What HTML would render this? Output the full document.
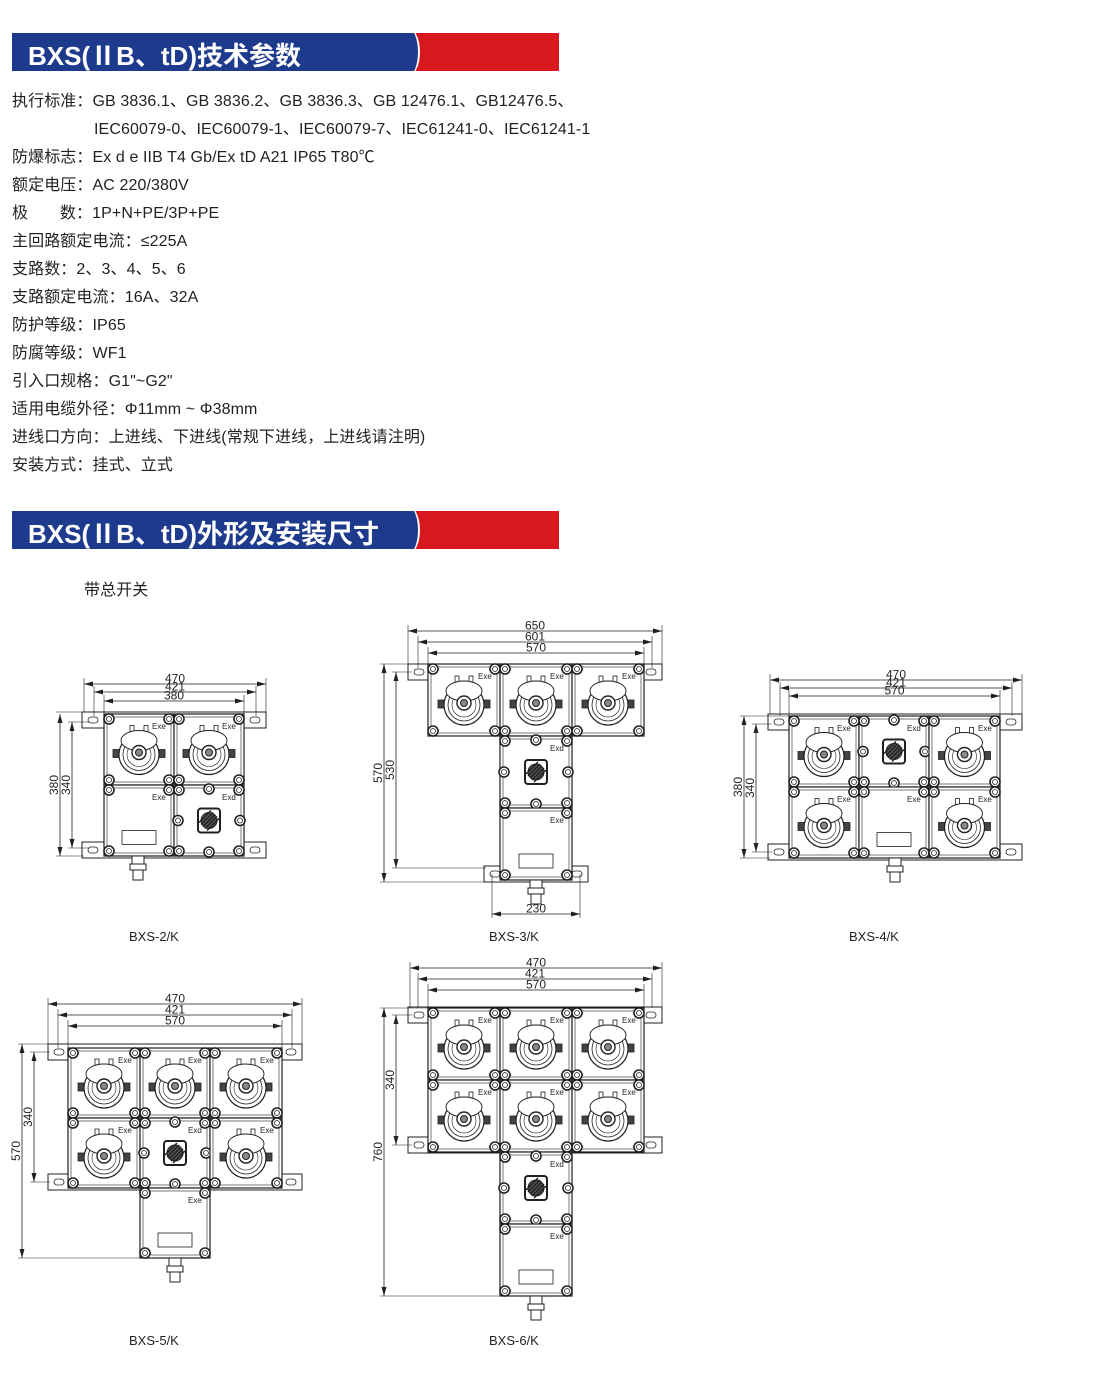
<!DOCTYPE html>
<html><head><meta charset="utf-8">
<style>
body{margin:0;background:#fff;width:1100px;height:1374px;overflow:hidden;position:relative;font-family:"Liberation Sans","Noto Sans CJK SC",sans-serif;color:#231f20}
.hdr{position:absolute;left:12px;width:547px;height:38px;background:#d7191f;overflow:hidden}
.hdr .b{position:absolute;left:0;top:0;width:395px;height:38px;background:#1e3a8c}
.hdr .c{position:absolute;left:382px;top:-6px;width:24px;height:50px;border-radius:0 50% 50% 0/0 50% 50% 0;background:#1e3a8c;border-right:2px solid #fff}
.hdr span{position:absolute;left:16px;top:3px;color:#fff;font-size:26px;font-weight:bold}
.t{position:absolute;font-size:16px;white-space:nowrap;letter-spacing:0.1px}
.lb{position:absolute;font-size:13px;white-space:nowrap}
svg{position:absolute;left:0;top:0}
</style></head><body>
<div class="hdr" style="top:33px"><div class="b"></div><div class="c"></div><span>BXS(ⅡB、tD)技术参数</span></div>
<div class="hdr" style="top:511px"><div class="b"></div><div class="c"></div><span>BXS(ⅡB、tD)外形及安装尺寸</span></div>
<div class="t" style="left:12px;top:87px">执行标准：GB 3836.1、GB 3836.2、GB 3836.3、GB 12476.1、GB12476.5、</div>
<div class="t" style="left:94px;top:115px">IEC60079-0、IEC60079-1、IEC60079-7、IEC61241-0、IEC61241-1</div>
<div class="t" style="left:12px;top:143px">防爆标志：Ex d e IIB T4 Gb/Ex tD A21 IP65 T80℃</div>
<div class="t" style="left:12px;top:171px">额定电压：AC 220/380V</div>
<div class="t" style="left:12px;top:199px">极&nbsp;&nbsp;&nbsp;&nbsp;&nbsp;&nbsp;&nbsp;数：1P+N+PE/3P+PE</div>
<div class="t" style="left:12px;top:227px">主回路额定电流：≤225A</div>
<div class="t" style="left:12px;top:255px">支路数：2、3、4、5、6</div>
<div class="t" style="left:12px;top:283px">支路额定电流：16A、32A</div>
<div class="t" style="left:12px;top:311px">防护等级：IP65</div>
<div class="t" style="left:12px;top:339px">防腐等级：WF1</div>
<div class="t" style="left:12px;top:367px">引入口规格：G1"~G2"</div>
<div class="t" style="left:12px;top:395px">适用电缆外径：Φ11mm ~ Φ38mm</div>
<div class="t" style="left:12px;top:423px">进线口方向：上进线、下进线(常规下进线，上进线请注明)</div>
<div class="t" style="left:12px;top:451px">安装方式：挂式、立式</div>
<div class="t" style="left:84px;top:576px">带总开关</div>
<div class="lb" style="left:129px;top:929px">BXS-2/K</div>
<div class="lb" style="left:489px;top:929px">BXS-3/K</div>
<div class="lb" style="left:849px;top:929px">BXS-4/K</div>
<div class="lb" style="left:129px;top:1333px">BXS-5/K</div>
<div class="lb" style="left:489px;top:1333px">BXS-6/K</div>
<svg id="s" width="1100" height="1374" xmlns="http://www.w3.org/2000/svg"></svg>
<script>
var o='';
function L(a,b,c,d,w){o+='<line x1="'+a+'" y1="'+b+'" x2="'+c+'" y2="'+d+'" stroke="#231f20" stroke-width="'+(w||0.8)+'"/>';}
function R(x,y,w,h,f,sw,r){o+='<rect x="'+x+'" y="'+y+'" width="'+w+'" height="'+h+'" rx="'+(r||0)+'" fill="'+(f||'#fff')+'" stroke="#231f20" stroke-width="'+(sw||1)+'"/>';}
function C(x,y,r,f,sw){o+='<circle cx="'+x+'" cy="'+y+'" r="'+r+'" fill="'+(f||'none')+'" stroke="#231f20" stroke-width="'+(sw||1)+'"/>';}
function T(x,y,s,fs,rot){o+='<text x="'+x+'" y="'+y+'" font-size="'+(fs||12)+'" font-family="Liberation Sans,sans-serif" fill="#231f20" text-anchor="middle"'+(rot?' transform="rotate(-90 '+x+' '+y+')"':'')+'>'+s+'</text>';}
function bolt(x,y){C(x,y,5,'#fff',1.6);C(x,y,2.5,'none',0.8);}
function arrH(x1,x2,y,txt){L(x1,y,x2,y);o+='<path d="M'+x1+' '+y+'l9 -2.5v5z M'+x2+' '+y+'l-9 -2.5v5z" fill="#231f20"/>';T((x1+x2)/2,y-1.5,txt,12);}
function arrV(x,y1,y2,txt){L(x,y1,x,y2);o+='<path d="M'+x+' '+y1+'l-2.5 9h5z M'+x+' '+y2+'l-2.5 -9h5z" fill="#231f20"/>';T(x-2,(y1+y2)/2,txt,12,1);}
function mod(x,y,w,h,type){
 R(x,y,w,h,'#fff',1.2);R(x+3,y+3,w-6,h-6,'none',0.6);
 var lab=type=='sw'?'Exd':'Exe';
 o+='<text x="'+(x+w-22)+'" y="'+(y+15)+'" font-size="8" font-family="Liberation Sans,sans-serif" fill="#231f20">'+lab+'</text>';
 if(type=='so'){var cx=x+w/2,cy=y+h/2+3;
  R(cx-9,cy-27,4,8,'#fff',0.8);R(cx+5,cy-27,4,8,'#fff',0.8);
  R(cx-26,cy-3,6,8,'#444',0.8);R(cx+20,cy-3,6,8,'#444',0.8);
  C(cx,cy+2,20,'#fff',1.2);C(cx,cy+2,16,'none',0.8);C(cx,cy+2,12,'none',0.6);
  o+='<ellipse cx="'+cx+'" cy="'+(cy-12)+'" rx="18" ry="10" fill="#fff" stroke="#231f20" stroke-width="0.9"/>';
  C(cx,cy,7,'#fff',1.4);C(cx,cy,3.5,'#888',1);
 }else if(type=='sw'){var cx=x+w/2,cy=y+h/2;
  R(cx-11,cy-12,22,24,'#fff',2,3);C(cx,cy,8,'#555',1);
  for(var i=-2;i<=2;i++)L(cx-6+i*2,cy+6+i*2,cx+6+i*2,cy-6+i*2,1.5);
  bolt(x+w/2,y+4);bolt(x+w/2,y+h-4);bolt(x+4,y+h/2);bolt(x+w-4,y+h/2);
 }else{R(x+w/2-17,y+h/2+10,34,14,'#fff',0.8);}
 bolt(x+5,y+5);bolt(x+w-5,y+5);bolt(x+5,y+h-5);bolt(x+w-5,y+h-5);
}
function rail(x1,x2,y){R(x1,y-8,x2-x1,16,'#fff',1);R(x1+6,y-3,10,6,'#fff',0.8,3);R(x2-16,y-3,10,6,'#fff',0.8,3);}
function gland(x,y){R(x-6,y,12,8,'#fff',1);R(x-8,y+8,16,6,'#fff',1);R(x-5,y+14,10,10,'#fff',1);}
function ext(x,y1,y2){L(x,y1,x,y2,0.6);}
function extH(x1,x2,y){L(x1,y,x2,y,0.6);}

rail(82,266,720);rail(82,266,850);
mod(104,714,70,71,'so');mod(174,714,70,71,'so');mod(104,785,70,71,'bl');mod(174,785,70,71,'sw');
gland(138,856);
arrH(84,266,684,'470');arrH(94,256,692,'421');arrH(104,244,701,'380');
ext(84,678,712);ext(266,678,712);ext(94,686,716);ext(256,686,716);ext(104,695,714);ext(244,695,714);
arrV(60,714,856,'380');arrV(72,722,848,'340');extH(56,104,712);extH(56,84,856);extH(68,90,722);extH(68,90,848);

rail(408,662,672);rail(484,588,874);
mod(428,664,72,72,'so');mod(500,664,72,72,'so');mod(572,664,72,72,'so');
mod(500,736,72,72,'sw');mod(500,808,72,72,'bl');gland(536,880);
arrH(408,662,631,'650');arrH(418,652,642,'601');arrH(428,644,653,'570');
ext(408,625,664);ext(662,625,664);ext(418,636,668);ext(652,636,668);ext(428,647,664);ext(644,647,664);
arrV(384,664,882,'570');arrV(396,672,868,'530');extH(380,428,664);extH(380,500,882);extH(392,412,672);extH(392,486,868);
arrH(492,580,914,'230');ext(492,874,918);ext(580,874,918);

rail(768,1022,722);rail(768,1022,852);
mod(789,716,70,71,'so');mod(859,716,70,71,'sw');mod(929,716,71,71,'so');
mod(789,787,70,71,'so');mod(859,787,70,71,'bl');mod(929,787,71,71,'so');gland(895,858);
arrH(770,1022,680,'470');arrH(780,1012,688,'421');arrH(789,1000,696,'570');
ext(770,674,714);ext(1022,674,714);ext(780,682,716);ext(1012,682,716);ext(789,690,716);ext(1000,690,716);
arrV(744,716,858,'380');arrV(756,724,852,'340');extH(740,789,716);extH(740,770,858);extH(752,772,724);extH(752,772,852);

rail(48,302,1052);rail(48,302,1182);
mod(68,1048,72,70,'so');mod(140,1048,70,70,'so');mod(210,1048,72,70,'so');
mod(68,1118,72,70,'so');mod(140,1118,70,70,'sw');mod(210,1118,72,70,'so');
mod(140,1188,70,70,'bl');gland(175,1258);
arrH(48,302,1004,'470');arrH(58,292,1015,'421');arrH(68,282,1026,'570');
ext(48,998,1044);ext(302,998,1044);ext(58,1009,1048);ext(292,1009,1048);ext(68,1020,1048);ext(282,1020,1048);
arrV(22,1044,1258,'570');arrV(34,1052,1182,'340');extH(18,68,1044);extH(18,140,1258);extH(30,50,1052);extH(30,50,1182);

rail(408,662,1015);rail(408,662,1145);
mod(428,1008,72,72,'so');mod(500,1008,72,72,'so');mod(572,1008,72,72,'so');
mod(428,1080,72,72,'so');mod(500,1080,72,72,'so');mod(572,1080,72,72,'so');
mod(500,1152,72,72,'sw');mod(500,1224,72,72,'bl');gland(536,1296);
arrH(410,662,968,'470');arrH(418,652,979,'421');arrH(428,644,990,'570');
ext(410,962,1008);ext(662,962,1008);ext(418,973,1008);ext(652,973,1008);ext(428,984,1008);ext(644,984,1008);
arrV(384,1008,1296,'760');arrV(396,1015,1145,'340');extH(380,428,1008);extH(380,500,1296);extH(392,412,1015);extH(392,412,1145);

document.getElementById('s').innerHTML=o;
</script>
</body></html>
